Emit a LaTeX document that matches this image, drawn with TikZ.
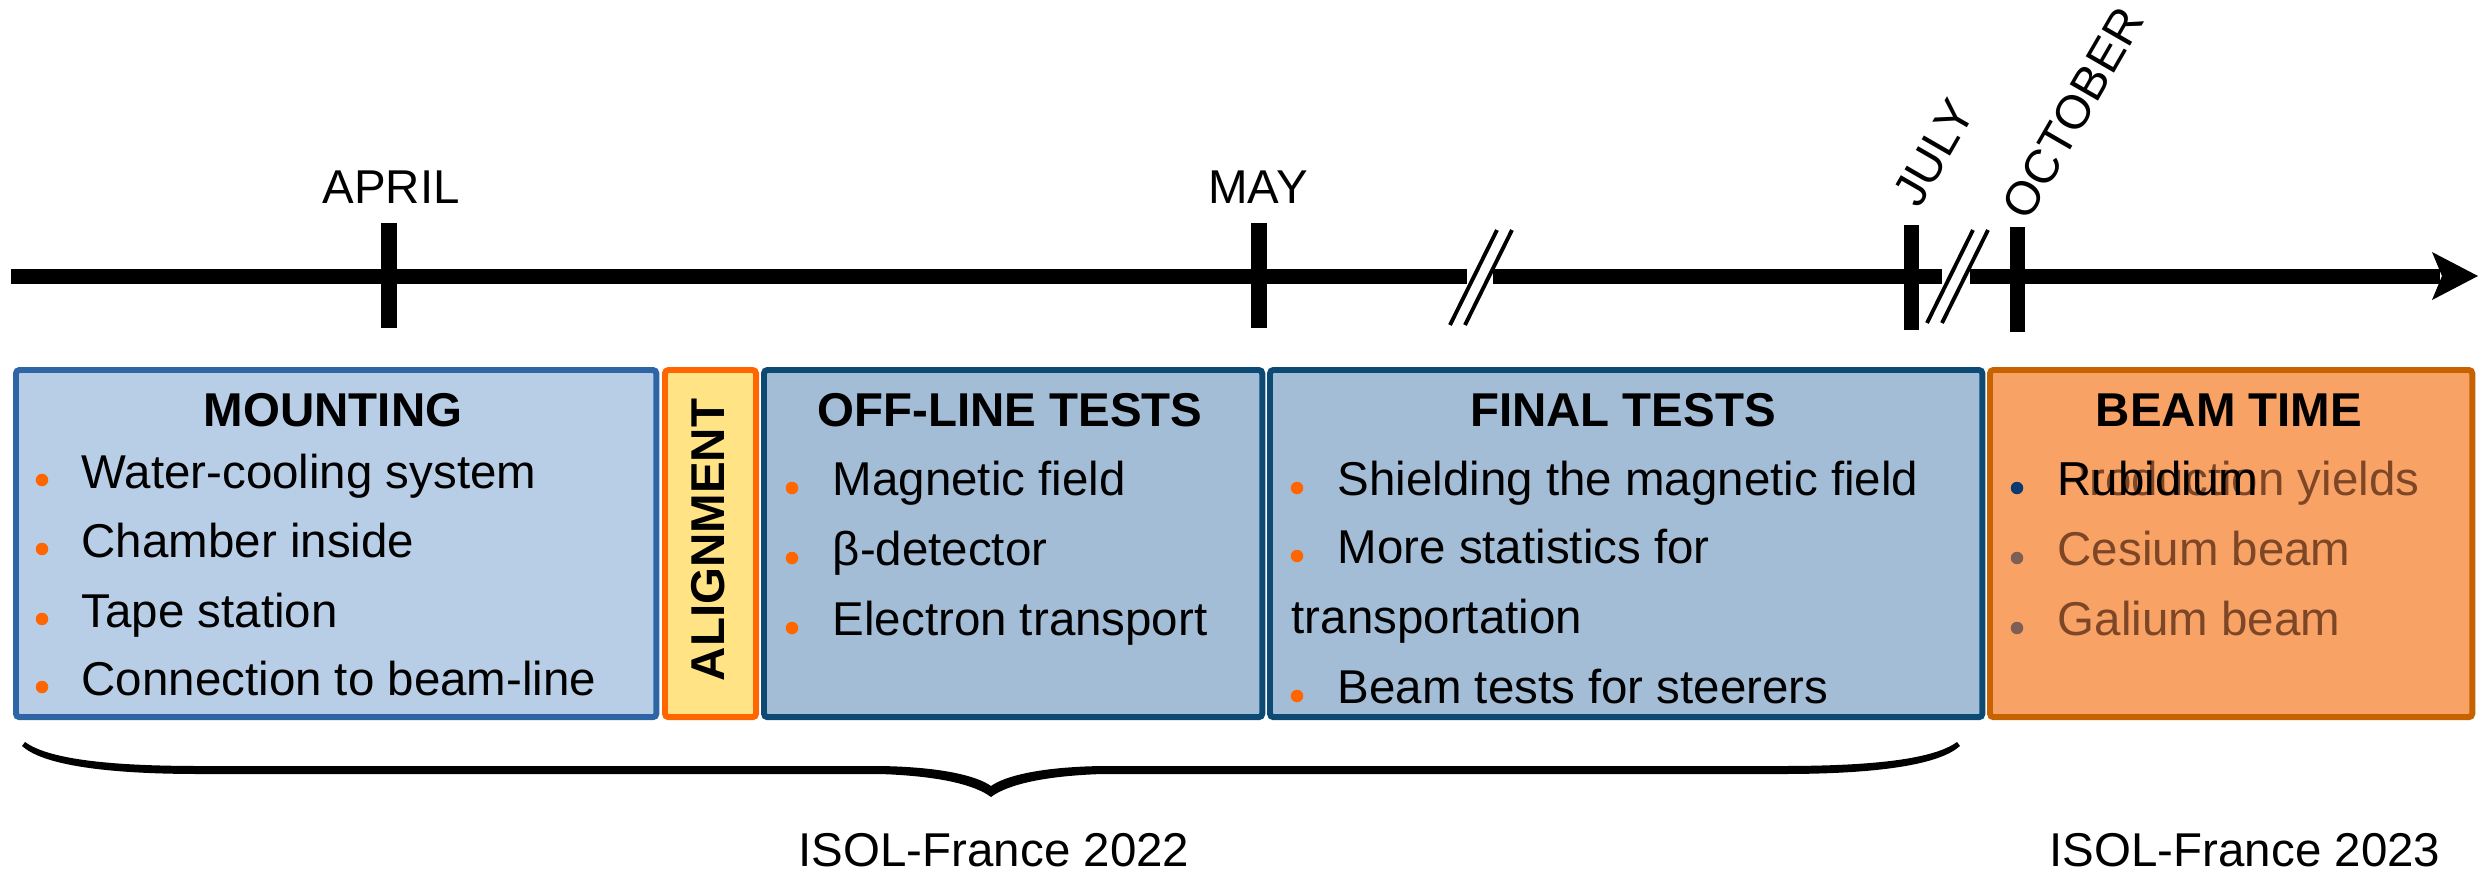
\documentclass[tikz,border=0pt]{standalone}
\usepackage{fontspec}
\setmainfont{Liberation Sans}
\definecolor{mfill}{HTML}{B8CEE6}
\definecolor{mline}{HTML}{2E65A5}
\definecolor{afill}{HTML}{FFE385}
\definecolor{aline}{HTML}{FF6600}
\definecolor{tfill}{HTML}{A3BDD7}
\definecolor{tline}{HTML}{0C4A74}
\definecolor{bfill}{HTML}{F9A265}
\definecolor{bline}{HTML}{C66300}
\definecolor{bul}{HTML}{FF6600}
\definecolor{brtxt}{HTML}{7D4626}
\definecolor{brbul}{HTML}{7D5F55}
\definecolor{bluebul}{HTML}{0B3A70}
\begin{document}
\begin{tikzpicture}[x=0.01cm,y=-0.01cm,
  every node/.style={font=\fontsize{13.5}{16}\selectfont, inner sep=0pt},
  phase/.style={draw, line width=1.7pt, rounded corners=1pt, anchor=north west, minimum height=3.47cm},
  ttl/.style={font=\fontsize{13.5}{16}\selectfont\bfseries, anchor=base},
  item/.style={anchor=base west},
  month/.style={anchor=base},
  rmonth/.style={rotate=60, anchor=center},
  axisline/.style={line width=4.27pt},
  tickline/.style={line width=4.27pt},
  slash/.style={line width=1.1pt},
  dot/.style={circle, fill=bul, minimum size=0.125cm, inner sep=0pt},
  brdot/.style={dot, fill=brbul},
  bldot/.style={dot, fill=bluebul}
]
\useasboundingbox (0,0) rectangle (2480,872);

% timeline axis
\coordinate (a0) at (11,276);
\coordinate (a1) at (1467,276);
\coordinate (a2) at (1493,276);
\coordinate (a3) at (1942,276);
\coordinate (a4) at (1970,276);
\coordinate (a5) at (2440,276);
\draw[axisline] (a0) -- (a1);
\draw[axisline] (a2) -- (a3);
\draw[axisline] (a4) -- (a5);
\fill (2478,276) -- (2432,252) -- (2442,276) -- (2432,300) -- cycle;

% ticks
\draw[tickline] (389,223) -- (389,328);
\draw[tickline] (1259,223) -- (1259,328);
\draw[tickline] (1911,225) -- (1911,330);
\draw[tickline] (2017,227) -- (2017,332);

% breaks
\draw[slash] (1450,325) -- (1497,230);
\draw[slash] (1465,325) -- (1512,230);
\draw[slash] (1927,323) -- (1973,230);
\draw[slash] (1942,323) -- (1988,230);

% month labels
\node[month] (apr) at (391,203) {APRIL};
\node[month] (may) at (1258,203) {MAY};
\node[rmonth] (jul) at (1934,153) {JULY};
\node[rmonth] (oct) at (2073,113) {OCTOBER};

% phase boxes
\node[phase, fill=mfill, draw=mline, minimum width=6.40cm] (mount) at (13,367) {};
\node[phase, fill=afill, draw=aline, minimum width=0.91cm] (align) at (662,367) {};
\node[phase, fill=tfill, draw=tline, minimum width=4.98cm] (offl) at (761,367) {};
\node[phase, fill=tfill, draw=tline, minimum width=7.12cm] (final) at (1267,367) {};
\node[phase, fill=bfill, draw=bline, minimum width=4.82cm] (beam) at (1987,367) {};

% titles
\node[ttl] (tmount) at (333,426) {MOUNTING};
\node[ttl, rotate=90, anchor=center] (talign) at (708,540) {ALIGNMENT};
\node[ttl] (toffl) at (1010,426) {OFF-LINE TESTS};
\node[ttl] (tfinal) at (1623,426) {FINAL TESTS};
\node[ttl] (tbeam) at (2229,426) {BEAM TIME};

% MOUNTING items
\node[dot] (m1d) at (42,480) {};
\node[dot] (m2d) at (42,549) {};
\node[dot] (m3d) at (42,619) {};
\node[dot] (m4d) at (42,687) {};
\node[item] (m1) at (81,488) {Water-cooling system};
\node[item] (m2) at (81,557) {Chamber inside};
\node[item] (m3) at (81,627) {Tape station};
\node[item] (m4) at (81,695) {Connection to beam-line};

% OFF-LINE items
\node[dot] (o1d) at (792,488) {};
\node[dot] (o2d) at (792,558) {};
\node[dot] (o3d) at (792,628) {};
\node[item] (o1) at (832,495) {Magnetic field};
\node[item] (o2) at (832,565) {β-detector};
\node[item] (o3) at (832,635) {Electron transport};

% FINAL items
\node[dot] (f1d) at (1297,488) {};
\node[dot] (f2d) at (1297,556) {};
\node[dot] (f3d) at (1297,696) {};
\node[item] (f1) at (1337,495) {Shielding the magnetic field};
\node[item] (f2) at (1337,563) {More statistics for};
\node[item] (f2b) at (1291,633) {transportation};
\node[item] (f3) at (1337,703) {Beam tests for steerers};

% BEAM items
\node[bldot] (b1d) at (2017,488) {};
\node[brdot] (b2d) at (2017,558) {};
\node[brdot] (b3d) at (2017,628) {};
\node[item, text=brtxt] (b1b) at (2057,495) {Production yields};
\node[item] (b1) at (2057,495) {Rubidium};
\node[item, text=brtxt] (b2) at (2057,565) {Cesium beam};
\node[item, text=brtxt] (b3) at (2057,635) {Galium beam};

% brace
\fill (22,746) .. controls (42,764) and (100,774) .. (200,774) -- (880,774)
  .. controls (940,776) and (975,785) .. (991,797)
  .. controls (1007,785) and (1042,776) .. (1102,774) -- (1782,774)
  .. controls (1882,774) and (1940,764) .. (1960,746)
  -- (1957,742)
  .. controls (1935,758) and (1880,766) .. (1782,766) -- (1102,766)
  .. controls (1040,767) and (1005,776) .. (991,786)
  .. controls (977,776) and (942,767) .. (880,766) -- (200,766)
  .. controls (102,766) and (47,758) .. (25,742) -- cycle;

% period labels
\node[month] (isol22) at (994,866) {ISOL-France 2022};
\node[month] (isol23) at (2245,866) {ISOL-France 2023};
\end{tikzpicture}
\end{document}
